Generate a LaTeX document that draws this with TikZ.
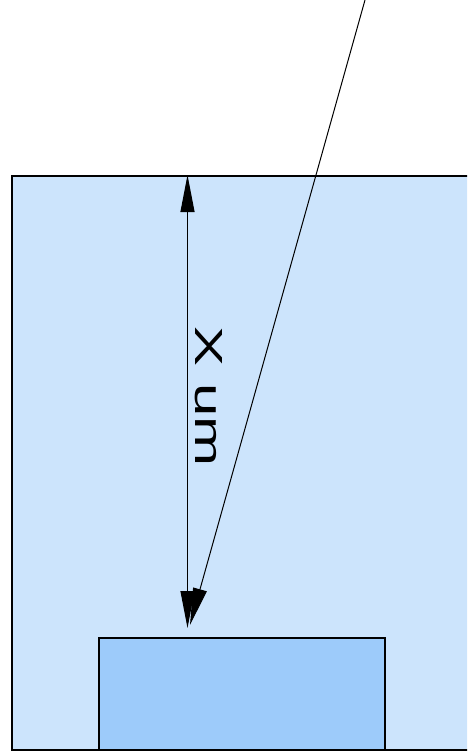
\documentclass[tikz,border=0pt]{standalone}
\usepackage{fontspec}
\setmainfont{Liberation Sans}
\usetikzlibrary{arrows.meta}
\definecolor{outerfill}{RGB}{204,228,252}
\definecolor{innerfill}{RGB}{157,203,250}
\begin{document}
\begin{tikzpicture}[x=1pt,y=-1pt,
  boxline/.style={draw=black,line width=2pt},
  dimarrow/.style={line width=1.1pt,{Triangle[length=37pt,width=14pt]}-{Triangle[length=37pt,width=14pt]}},
  rayarrow/.style={line width=1pt,-{Triangle[length=37pt,width=14pt]}}]
\useasboundingbox (0,0) rectangle (467,752);
\clip (0,0) rectangle (467,752);
\node[boxline,fill=outerfill,inner sep=0pt,minimum width=470pt,minimum height=574pt,anchor=north west] (outer) at (11,175) {};
\node[boxline,fill=innerfill,inner sep=0pt,minimum width=286pt,minimum height=112pt,anchor=north west] (inner) at (98,637) {};
\coordinate (dtop) at (187.5,175);
\coordinate (dbot) at (187.5,628);
\draw[dimarrow] (dbot) -- (dtop);
\coordinate (raystart) at (365,0);
\coordinate (rayend) at (190,625);
\draw[rayarrow] (raystart) -- (rayend);
\node[rotate=-90,inner sep=0pt] (lbl) at (208.5,397) {\resizebox{140pt}{27pt}{X um}};
\end{tikzpicture}
\end{document}
